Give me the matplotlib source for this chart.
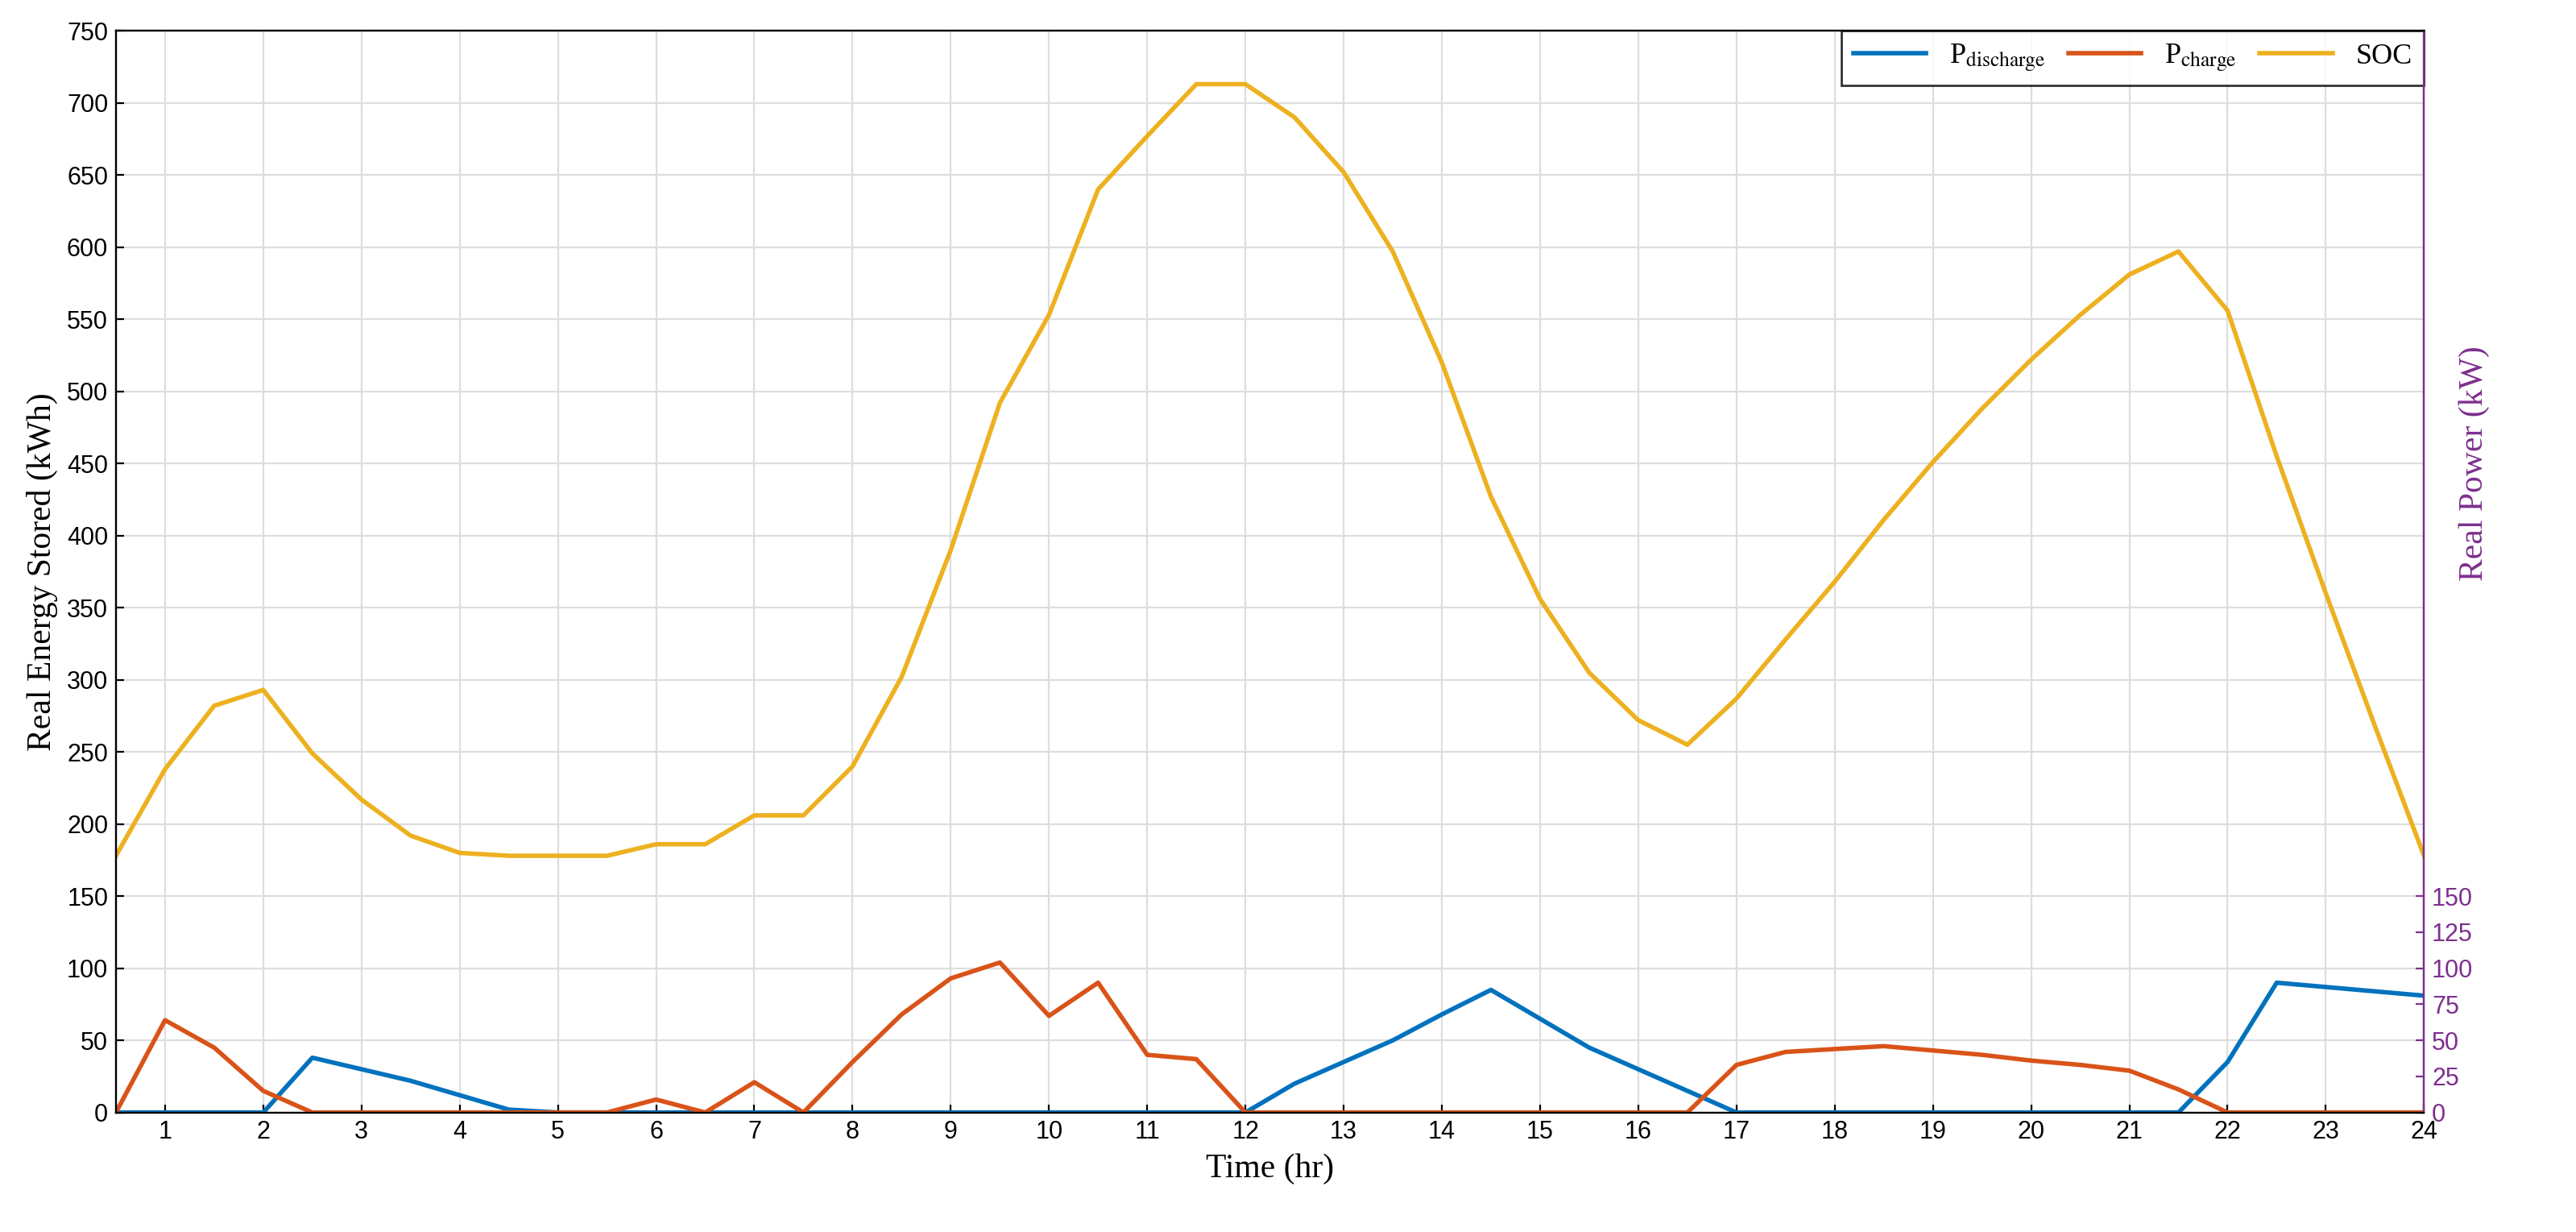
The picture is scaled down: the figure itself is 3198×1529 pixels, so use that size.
import matplotlib
matplotlib.use("Agg")
import matplotlib.pyplot as plt
import numpy as np

hours = np.arange(1, 49) * 0.5
soc = [178,238,282,293,249,217,192,180,178,178,178,186,186,206,206,240,302,390,492,553,640,677,713,713,
       690,652,597,520,427,356,305,272,255,287,328,368,411,451,488,522,553,581,597,556,455,360,268,178]
p_dis = [0,0,0,0,38,30,22,12,2,0,0,0,0,0,0,0,0,0,0,0,0,0,0,0,
         20,35,50,68,85,65,45,30,15,0,0,0,0,0,0,0,0,0,0,35,90,87,84,81]
p_chg = [0,64,45,15,0,0,0,0,0,0,0,9,0,21,0,35,68,93,104,67,90,40,37,0,
         0,0,0,0,0,0,0,0,0,33,42,44,46,43,40,36,33,29,16,0,0,0,0,0]
xticks = list(range(1, 25))
right_ticks = [0,25,50,75,100,125,150]

plt.rcParams['font.family'] = ['Liberation Sans', 'DejaVu Sans']
plt.rcParams['mathtext.fontset'] = 'stix'
fig = plt.figure(figsize=(15.99, 7.645), dpi=200)
ax = fig.add_axes([0.045, 0.097, 0.896, 0.878])
ax.plot(hours, p_dis, color='#0072BD', lw=2, label=r'P$_{\mathrm{discharge}}$')
ax.plot(hours, p_chg, color='#D95319', lw=2, label=r'P$_{\mathrm{charge}}$')
ax.plot(hours, soc, color='#EDB120', lw=2, label='SOC')
ax.set_xlim(0.5, 24)
ax.set_ylim(0, 750)
ax.set_xticks(xticks)
ax.set_yticks(range(0, 751, 50))
ax.grid(True, color='#dddddd', lw=0.8)
ax.tick_params(labelsize=11, direction='in')
ax.set_xlabel('Time (hr)', family='Liberation Serif', fontsize=15)
ax.set_ylabel('Real Energy Stored (kWh)', family='Liberation Serif', fontsize=15)
for s in ax.spines.values():
    s.set_color('#262626')
ax2 = ax.twinx()
ax2.set_ylim(0, 750)
ax2.set_yticks(right_ticks)
ax2.tick_params(colors='#7E2F8E', labelsize=11, direction='in')
ax2.spines['right'].set_color('#7E2F8E')
ax2.set_ylabel('Real Power (kW)', family='Liberation Serif', fontsize=15, color='#7E2F8E')
ax2.yaxis.set_label_coords(1.015, 0.6)
leg = ax.legend(loc='upper right', ncol=3, prop={'family': 'Liberation Serif', 'size': 13},
                fancybox=False, edgecolor='black', borderaxespad=0, handlelength=2.5, columnspacing=0.8)
fig.savefig('out.png', dpi=200)
